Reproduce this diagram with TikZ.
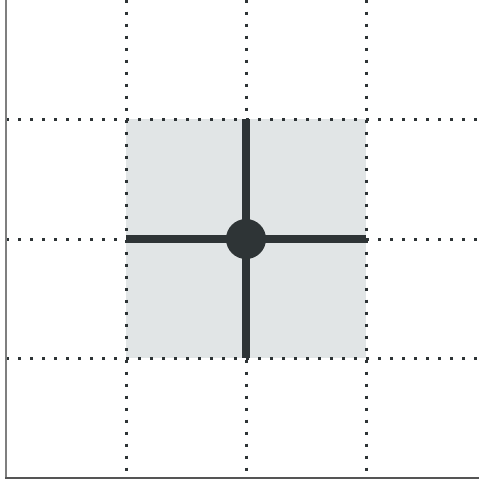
\documentclass[tikz,border=0pt]{standalone}
\definecolor{darkc}{HTML}{2E3436}
\definecolor{fillc}{HTML}{E1E5E6}
\definecolor{axisl}{HTML}{7F7F7F}
\definecolor{axisb}{HTML}{555555}
\tikzset{
  gridline/.style={darkc, line width=3pt, dash pattern=on 3pt off 9pt},
  crossline/.style={darkc, line width=8pt},
}
\begin{document}
\begin{tikzpicture}[x=1pt,y=-1pt]
\useasboundingbox (0,0) rectangle (479,482);
\fill[fillc] (126,119) rectangle (366,358);
% dotted grid
\coordinate (h1s) at (6,119); \coordinate (h1e) at (479,119);
\coordinate (h2s) at (6,239); \coordinate (h2e) at (479,239);
\coordinate (h3s) at (6,358); \coordinate (h3e) at (479,358);
\coordinate (v1s) at (126,-0.5); \coordinate (v1e) at (126,476);
\coordinate (v2s) at (246,-0.5); \coordinate (v2e) at (246,476);
\coordinate (v3s) at (366,-0.5); \coordinate (v3e) at (366,476);
\foreach \a in {h1,h2,h3,v1,v2,v3} \draw[gridline] (\a s) -- (\a e);
% axes
\coordinate (o) at (6,478);
\coordinate (top) at (6,0);
\coordinate (right) at (479,478);
\draw[axisl, line width=2pt] (o) -- (top);
\draw[axisb, line width=2pt] (5,478) -- (right);
% cross
\coordinate (cl) at (126,239); \coordinate (cr) at (366,239);
\coordinate (ct) at (246,119); \coordinate (cb) at (246,358);
\draw[crossline] (cl) -- (cr);
\draw[crossline] (ct) -- (cb);
\fill[darkc] (246,239) circle (20);
\end{tikzpicture}
\end{document}
